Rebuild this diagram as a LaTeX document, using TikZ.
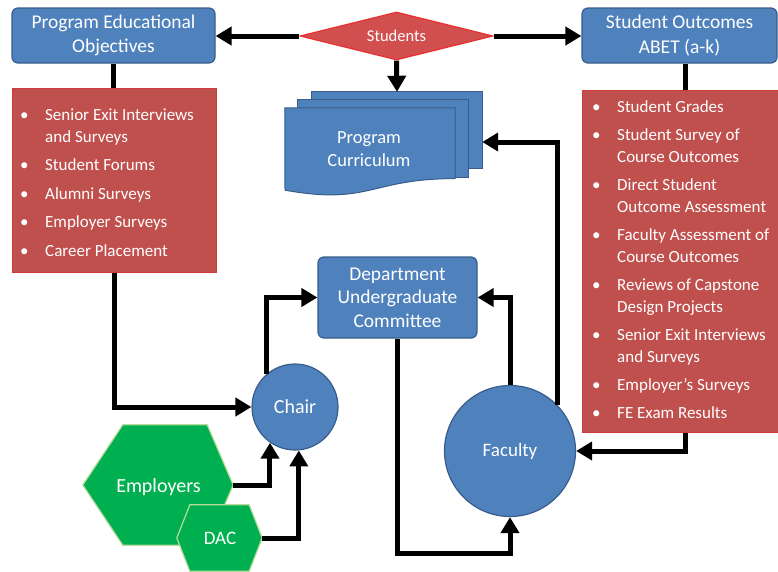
\documentclass[tikz,border=0pt]{standalone}
\usepackage{fontspec}
\setmainfont{Carlito}
\usetikzlibrary{arrows.meta,shapes.geometric}
\definecolor{bluefill}{HTML}{4F81BD}
\definecolor{blueedge}{HTML}{385D8A}
\definecolor{redfill}{HTML}{C0504D}
\definecolor{rededge}{HTML}{D03A3A}
\definecolor{diafill}{HTML}{D24F4F}
\definecolor{diaedge}{HTML}{E8302F}
\definecolor{greenfill}{HTML}{00B050}
\definecolor{greenedge}{HTML}{B5DC9A}
\begin{document}
\begin{tikzpicture}[x=1pt,y=-1pt,
  bluebox/.style={draw=blueedge, fill=bluefill, line width=1.2pt, rounded corners=6pt,
    text=white, align=center, inner sep=0pt, font=\fontsize{19.5}{24.5}\selectfont},
  bluecirc/.style={draw=blueedge, fill=bluefill, line width=1.2pt, circle, inner sep=0pt,
    text=white, font=\fontsize{19.5}{22}\selectfont},
  redbox/.style={draw=rededge, fill=redfill, line width=1pt, inner sep=0pt},
  listtext/.style={text=white, inner sep=0pt, anchor=north west, font=\fontsize{17}{22}\selectfont},
  sheet/.style={draw=blueedge, fill=bluefill, line width=1pt},
  hexa/.style={draw=greenedge, fill=greenfill, line width=1.2pt},
  plainlbl/.style={text=white, inner sep=0pt, align=center, font=\fontsize{19}{23}\selectfont},
  arr/.style={line width=5pt, -{Triangle[length=16pt,width=18pt]}},
  conn/.style={line width=5pt}]
\useasboundingbox (0,0) rectangle (778,571);

% header boxes
\node[bluebox, minimum width=203pt, minimum height=55pt] (peo) at (113.5,35.5) {Program Educational\\Objectives};
\node[bluebox, minimum width=195pt, minimum height=55pt] (so) at (679.5,35.5) {Student Outcomes\\ABET (a-k)};
\node[diamond, aspect=4, draw=diaedge, fill=diafill, line width=1.2pt, minimum width=193pt, minimum height=48pt,
  inner sep=0pt, text=white, font=\fontsize{16.5}{18}\selectfont] (stu) at (396.5,36) {Students};

% red lists
\node[redbox, minimum width=204pt, minimum height=184pt] (lred) at (114,180) {};
\node[listtext] (ltxt) at (20,104.6) {\begin{tabular}{@{}p{25pt}@{}l@{}}
\textbullet & Senior Exit Interviews\\
 & and Surveys\\[6.5pt]
\textbullet & Student Forums\\[6.5pt]
\textbullet & Alumni Surveys\\[6.5pt]
\textbullet & Employer Surveys\\[6.5pt]
\textbullet & Career Placement
\end{tabular}};

\node[redbox, minimum width=206pt, minimum height=342pt] (rred) at (685,261) {};
\node[listtext] (rtxt) at (592,96.6) {\begin{tabular}{@{}p{25pt}@{}l@{}}
\textbullet & Student Grades\\[6pt]
\textbullet & Student Survey of\\
 & Course Outcomes\\[6pt]
\textbullet & Direct Student\\
 & Outcome Assessment\\[6pt]
\textbullet & Faculty Assessment of\\
 & Course Outcomes\\[6pt]
\textbullet & Reviews of Capstone\\
 & Design Projects\\[6pt]
\textbullet & Senior Exit Interviews\\
 & and Surveys\\[6pt]
\textbullet & Employer’s Surveys\\[6pt]
\textbullet & FE Exam Results
\end{tabular}};

% program curriculum (multi-document)
\node[minimum width=170pt, minimum height=76pt, inner sep=0pt] (curr) at (397,130) {};
\draw[sheet] (curr.north west) rectangle (curr.south east);
\draw[sheet] ([xshift=-14pt,yshift=-8pt]curr.north west) rectangle ([xshift=-14pt,yshift=-9pt]curr.south east);
\draw[sheet] ([xshift=-27pt,yshift=-16pt]curr.north west) -- ([xshift=-27pt,yshift=-16pt]curr.north east)
  -- (455,178.6) .. controls (370,178.6) and (370,205.4) .. (285,190.2) -- cycle;
\node[plainlbl, font=\fontsize{18.5}{23}\selectfont] (currtxt) at (369,149.5) {Program\\Curriculum};

% committee, chair, faculty
\node[bluebox, minimum width=159pt, minimum height=81pt, font=\fontsize{19.5}{23.5}\selectfont] (duc) at (397.5,297.5) {Department\\Undergraduate\\Committee};
\node[bluecirc, minimum size=86pt, font=\fontsize{20}{22}\selectfont] (chair) at (295,407) {Chair};
\node[bluecirc, minimum size=131pt, font=\fontsize{19}{22}\selectfont] (fac) at (510,451) {Faculty};

% hexagons
\node[minimum width=150pt, minimum height=120pt, inner sep=0pt] (emp) at (158,485) {};
\draw[hexa] (emp.west) -- ([xshift=40pt]emp.north west) -- ([xshift=-26pt]emp.north east) -- (emp.east)
  -- ([xshift=-26pt]emp.south east) -- ([xshift=40pt]emp.south west) -- cycle;
\node[plainlbl, font=\fontsize{20}{23}\selectfont] (emptxt) at (158.5,487) {Employers};
\node[minimum width=85pt, minimum height=66pt, inner sep=0pt] (dac) at (219.5,538) {};
\draw[hexa] (dac.west) -- ([xshift=13pt]dac.north west) -- ([xshift=-13pt]dac.north east) -- (dac.east)
  -- ([xshift=-13pt]dac.south east) -- ([xshift=13pt]dac.south west) -- cycle;
\node[plainlbl] (dactxt) at (220,538) {DAC};

% connectors
\draw[conn] (peo.south) -- (peo.south |- lred.north);
\draw[conn] (rred.north) -- (rred.north |- so.south);
\draw[arr] (stu.west) -- (stu.west -| peo.east);
\draw[arr] (stu.east) -- (stu.east -| so.west);
\draw[arr] (stu.south) -- (curr.north);
\draw[arr] (lred.south) |- (chair.west);
\draw[arr] (chair.130) |- (duc.west);
\draw[arr] (emp.east) -| (chair.235);
\draw[arr] (dac.east) -| (chair.275);
\draw[arr] (fac.north) |- (duc.east);
\draw[arr] (fac.44) |- ([yshift=-12pt]curr.east);
\draw[arr] (duc.south) -- ++(0,215) -| (fac.south);
\draw[arr] (rred.south) |- (fac.east);
\end{tikzpicture}
\end{document}
